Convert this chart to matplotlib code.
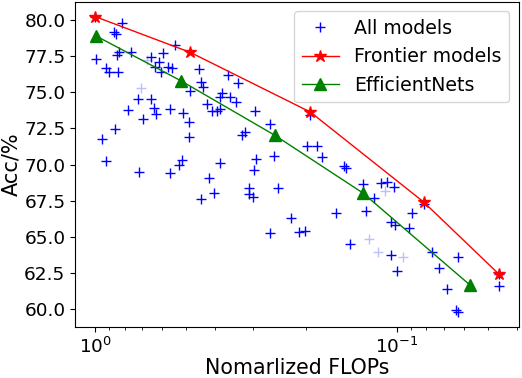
import matplotlib
matplotlib.use("Agg")
import matplotlib.pyplot as plt

# All models (normalized FLOPs, accuracy %)
all_flops = [1.00, 0.819, 0.868, 0.855, 0.994, 0.925, 0.899, 0.839, 0.847, 0.836,
             0.759, 0.656, 0.616, 0.598, 0.574, 0.557, 0.543, 0.632, 0.608, 0.454,
             0.722, 0.653, 0.779, 0.640, 0.629, 0.567, 0.695, 0.862, 0.954, 0.925,
             0.718, 0.567, 0.517, 0.527, 0.421, 0.385, 0.512, 0.488, 0.488, 0.445,
             0.441, 0.428, 0.410, 0.395, 0.385, 0.380, 0.385, 0.357, 0.343, 0.337,
             0.486, 0.363, 0.320, 0.327, 0.295, 0.263, 0.256, 0.293, 0.299, 0.309,
             0.445, 0.405, 0.309, 0.301, 0.249, 0.264, 0.199, 0.184, 0.177, 0.194,
             0.150, 0.148, 0.130, 0.113, 0.1083, 0.1027, 0.119, 0.1268, 0.160, 0.224,
             0.211, 0.2025, 0.1047, 0.1014, 0.0916, 0.0893, 0.1429, 0.1051, 0.1002, 0.0769,
             0.0726, 0.0630, 0.0684, 0.0640, 0.0628, 0.0461, 0.0461, 0.0817]
all_acc = [80.18, 79.77, 79.16, 78.99, 77.25, 76.64, 76.40, 76.38, 77.55, 77.74,
           77.74, 77.43, 77.09, 77.71, 76.75, 76.64, 78.24, 76.75, 76.40, 76.57,
           74.51, 74.51, 73.73, 73.89, 73.50, 73.82, 73.16, 72.45, 71.76, 70.23,
           69.50, 69.43, 70.31, 70.00, 69.09, 70.12, 73.55, 72.90, 71.92, 75.72,
           75.37, 74.19, 73.66, 73.66, 73.82, 74.92, 74.69, 74.69, 74.34, 75.61,
           75.08, 76.18, 72.22, 72.06, 73.66, 72.79, 70.57, 70.39, 69.61, 68.40,
           67.65, 68.01, 67.98, 67.77, 68.35, 65.26, 71.26, 71.26, 70.53, 73.43,
           69.88, 69.76, 68.63, 68.74, 68.76, 68.46, 67.71, 66.79, 66.62, 66.34,
           65.35, 65.40, 66.05, 65.81, 65.64, 66.62, 64.51, 63.75, 62.68, 63.94,
           62.85, 63.60, 61.42, 59.98, 59.81, 61.65, 62.45, 67.30]

# faint (overlapping) model points
faint_flops = [0.674, 0.708, 0.110, 0.1243, 0.116, 0.0955]
faint_acc = [77.21, 75.28, 68.17, 64.85, 63.99, 63.60]

frontier_flops = [1.0, 0.484, 0.194, 0.0817, 0.0461]
frontier_acc = [80.2, 77.73, 73.62, 67.41, 62.45]

effnet_flops = [0.995, 0.52, 0.2545, 0.130, 0.0575]
effnet_acc = [78.87, 75.77, 72.02, 68.04, 61.70]

fig = plt.figure(figsize=(5.22, 3.78), dpi=100)
ax = fig.add_subplot(111)
fig.subplots_adjust(left=0.144, right=0.994, top=0.995, bottom=0.135)

ax.plot(faint_flops, faint_acc, linestyle="none", marker="+", color="blue",
        markersize=7.5, markeredgewidth=1.0, alpha=0.25)
ax.plot(all_flops, all_acc, linestyle="none", marker="+", color="blue",
        markersize=7.5, markeredgewidth=1.0, label="All models")
ax.plot(frontier_flops, frontier_acc, color="red", marker="*", markersize=9,
        linewidth=1.0, label="Frontier models")
ax.plot(effnet_flops, effnet_acc, color="green", marker="^", markersize=8,
        linewidth=1.0, label="EfficientNets")

ax.set_xscale("log")
ax.invert_xaxis()
ax.set_yticks([60.0, 62.5, 65.0, 67.5, 70.0, 72.5, 75.0, 77.5, 80.0])
ax.tick_params(axis="both", labelsize=13.3)
ax.set_xlabel("Nomarlized FLOPs", fontsize=14.8, labelpad=1)
ax.set_ylabel("Acc/%", fontsize=15)
ax.yaxis.set_label_coords(-0.122, 0.5)

handles, labels = ax.get_legend_handles_labels()
ax.legend(handles, labels, loc="upper right", fontsize=13.6)

fig.savefig("out.png", dpi=100)
